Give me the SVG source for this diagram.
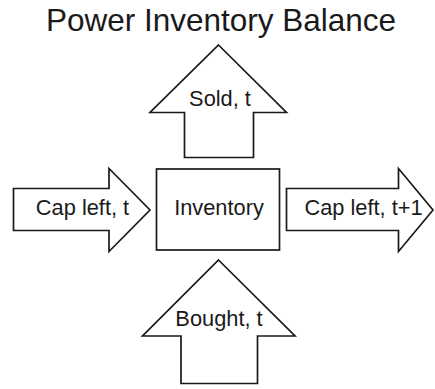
<svg xmlns="http://www.w3.org/2000/svg" width="435" height="389" viewBox="0 0 435 389">
  <style>
    .shape { fill: #ffffff; stroke: #1a1a1a; stroke-width: 1.7; stroke-linejoin: miter; }
    .label { font-family: "Liberation Sans", Arial, sans-serif; font-size: 21.8px; fill: #1a1a1a; text-anchor: middle; }
    .title { font-family: "Liberation Sans", Arial, sans-serif; font-size: 31.5px; fill: #1a1a1a; text-anchor: middle; }
  </style>
  <rect width="435" height="389" fill="#ffffff"/>

  <text class="title" x="221" y="31">Power Inventory Balance</text>

  <g id="flows">
    <g id="sold">
      <polygon class="shape" points="218.5,45 286.5,112.5 253.5,112.5 253.5,157.5 184.5,157.5 184.5,112.5 150,112.5"/>
      <text class="label" x="220" y="106">Sold, t</text>
    </g>
    <g id="cap-left-t">
      <polygon class="shape" points="13.5,188.5 109,188.5 109,168.5 150,210 109,251.5 109,230.5 13.5,230.5"/>
      <text class="label" x="82.5" y="215">Cap left, t</text>
    </g>
    <g id="cap-left-t1">
      <polygon class="shape" points="286.5,188.5 398.5,188.5 398.5,168.5 433,210 398.5,251.5 398.5,230.5 286.5,230.5"/>
      <text class="label" x="363.5" y="215">Cap left, t+1</text>
    </g>
    <g id="bought">
      <polygon class="shape" points="218.5,260 295,336 257.5,336 257.5,383.5 181,383.5 181,336 142.5,336"/>
      <text class="label" x="219" y="326">Bought, t</text>
    </g>
  </g>

  <g id="inventory">
    <rect class="shape" x="156.5" y="169" width="123" height="81"/>
    <text class="label" x="219" y="215">Inventory</text>
  </g>
</svg>
